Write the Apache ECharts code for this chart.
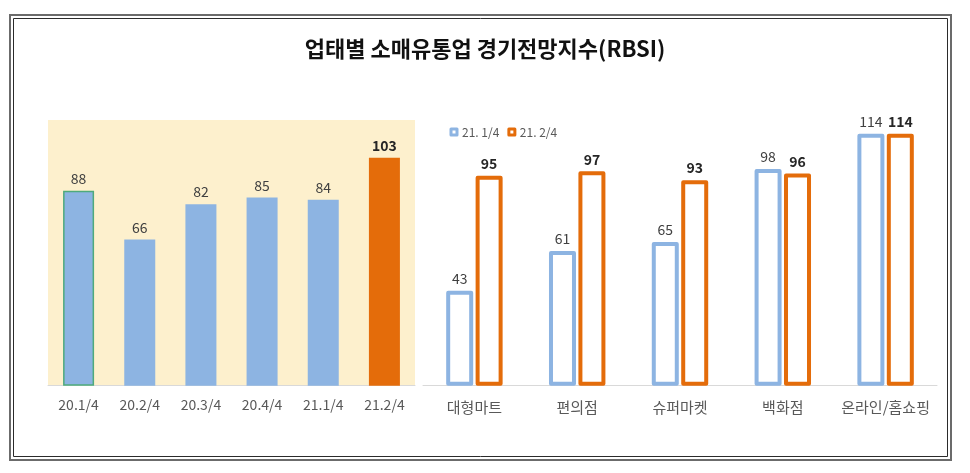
<!DOCTYPE html>
<html>
<head>
<meta charset="utf-8">
<script src="https://cdn.jsdelivr.net/npm/echarts@6/dist/echarts.min.js"></script>
<style>
html,body{margin:0;padding:0;background:#fff;}
#c{width:970px;height:473px;}
</style>
</head>
<body>
<div id="c"></div>
<script>
var titleText = '업태별 소매유통업 경기전망지수(RBSI)';
var leftCategories = ['20.1/4', '20.2/4', '20.3/4', '20.4/4', '21.1/4', '21.2/4'];
var leftValues = [88, 66, 82, 85, 84, 103];
var rightCategories = ['대형마트', '편의점', '슈퍼마켓', '백화점', '온라인/홈쇼핑'];
var seriesNames = ['21. 1/4', '21. 2/4'];
var q1Values = [43, 61, 65, 98, 114];
var q2Values = [95, 97, 93, 96, 114];

var FONT = "'Noto Sans CJK KR', 'Noto Sans', sans-serif";
var BLUE = '#8db4e2';
var ORANGE = '#e46c0a';
var GREEN = '#4eaa7c';

var chart = echarts.init(document.getElementById('c'), null, {renderer: 'canvas'});

var leftData = leftValues.map(function (v, i) {
  var item = {value: v};
  if (i === 0) {
    item.itemStyle = {color: BLUE, borderColor: GREEN, borderWidth: 1.5};
  }
  if (i === leftValues.length - 1) {
    item.itemStyle = {color: ORANGE};
    item.label = {fontWeight: 'bold', color: '#262626'};
  }
  return item;
});

var option = {
  backgroundColor: '#ffffff',
  animation: false,
  textStyle: {fontFamily: FONT},
  title: {
    text: titleText,
    left: 'center',
    top: 33,
    textStyle: {fontFamily: FONT, fontSize: 22, fontWeight: 'bold', color: '#111111'}
  },
  legend: {
    data: seriesNames,
    left: 444.5,
    top: 121,
    itemWidth: 6,
    itemHeight: 6,
    itemGap: 8,
    icon: 'rect',
    itemStyle: {borderWidth: 3},
    textStyle: {fontFamily: FONT, fontSize: 12, color: '#595959'}
  },
  graphic: [
    {type: 'rect', shape: {x: 10, y: 15, width: 941, height: 445}, style: {fill: 'none', stroke: '#6b6b6b', lineWidth: 2}, silent: true},
    {type: 'rect', shape: {x: 13.5, y: 18.5, width: 934, height: 438}, style: {fill: 'none', stroke: '#2b2b2b', lineWidth: 1}, silent: true}
  ],
  grid: [
    {left: 48, top: 120, width: 367, bottom: 87.3, show: true, backgroundColor: '#fdf0cd', borderWidth: 0},
    {left: 423, top: 120.5, width: 514, bottom: 87.3}
  ],
  xAxis: [
    {
      type: 'category', gridIndex: 0, data: leftCategories,
      axisLine: {lineStyle: {color: '#d9d9d9', width: 1}},
      axisTick: {show: false},
      axisLabel: {interval: 0, fontFamily: FONT, fontSize: 14, color: '#595959', margin: 12}
    },
    {
      type: 'category', gridIndex: 1, data: rightCategories,
      axisLine: {lineStyle: {color: '#d9d9d9', width: 1}},
      axisTick: {show: false},
      axisLabel: {interval: 0, fontFamily: FONT, fontSize: 15, color: '#595959', margin: 14}
    }
  ],
  yAxis: [
    {type: 'value', gridIndex: 0, min: 0, max: 120, show: false, splitLine: {show: false}},
    {type: 'value', gridIndex: 1, min: 0, max: 120, show: false, splitLine: {show: false}}
  ],
  series: [
    {
      type: 'bar', xAxisIndex: 0, yAxisIndex: 0,
      data: leftData,
      barWidth: 31,
      itemStyle: {color: BLUE},
      label: {show: true, position: 'top', distance: 5, fontFamily: FONT, fontSize: 14, color: '#404040'}
    },
    {
      name: seriesNames[0], type: 'bar', xAxisIndex: 1, yAxisIndex: 1,
      data: q1Values,
      barWidth: 27,
      barGap: '9%',
      itemStyle: {color: '#ffffff', borderColor: BLUE, borderWidth: 4, borderJoin: 'round'},
      label: {show: true, position: 'top', distance: 5, fontFamily: FONT, fontSize: 14, color: '#404040'}
    },
    {
      name: seriesNames[1], type: 'bar', xAxisIndex: 1, yAxisIndex: 1,
      data: q2Values,
      barWidth: 27,
      barGap: '9%',
      itemStyle: {color: '#ffffff', borderColor: ORANGE, borderWidth: 4, borderJoin: 'round'},
      label: {show: true, position: 'top', distance: 5, fontFamily: FONT, fontSize: 14, fontWeight: 'bold', color: '#262626'}
    }
  ]
};
chart.setOption(option);
</script>
</body>
</html>
